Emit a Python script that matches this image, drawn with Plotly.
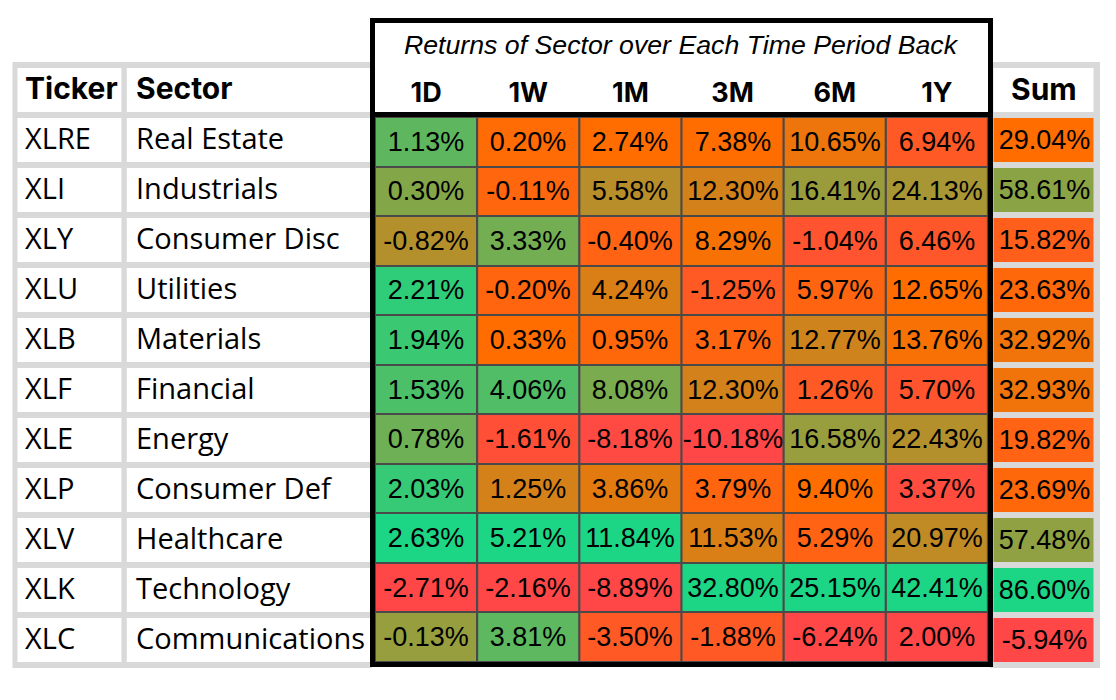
import plotly.graph_objects as go

# ---- data ----
tickers = ["XLRE", "XLI", "XLY", "XLU", "XLB", "XLF", "XLE", "XLP", "XLV", "XLK", "XLC"]
sectors = ["Real Estate", "Industrials", "Consumer Disc", "Utilities", "Materials",
           "Financial", "Energy", "Consumer Def", "Healthcare", "Technology", "Communications"]
periods = ["1D", "1W", "1M", "3M", "6M", "1Y"]

ret_1d = [1.13, 0.30, -0.82, 2.21, 1.94, 1.53, 0.78, 2.03, 2.63, -2.71, -0.13]
ret_1w = [0.20, -0.11, 3.33, -0.20, 0.33, 4.06, -1.61, 1.25, 5.21, -2.16, 3.81]
ret_1m = [2.74, 5.58, -0.40, 4.24, 0.95, 8.08, -8.18, 3.86, 11.84, -8.89, -3.50]
ret_3m = [7.38, 12.30, 8.29, -1.25, 3.17, 12.30, -10.18, 3.79, 11.53, 32.80, -1.88]
ret_6m = [10.65, 16.41, -1.04, 5.97, 12.77, 1.26, 16.58, 9.40, 5.29, 25.15, -6.24]
ret_1y = [6.94, 24.13, 6.46, 12.65, 13.76, 5.70, 22.43, 3.37, 20.97, 42.41, 2.00]
sums = [29.04, 58.61, 15.82, 23.63, 32.92, 32.93, 19.82, 23.69, 57.48, 86.60, -5.94]

# value that shows up as plain orange in each column (middle of its colour scale)
mid_periods = [-2.52, 0.33, 2.74, 7.38, 9.40, 12.65]
mid_sum = 29.04

returns = [ret_1d, ret_1w, ret_1m, ret_3m, ret_6m, ret_1y]

# ---- styling ----
# page is 1116x700 but the html body adds an 8px margin, so the figure is a bit smaller
PAGE_OFF = 8
W, H = 1100, 684
RED, ORANGE, GREEN = "#FF4747", "#FF6D00", "#1CD685"
GRID_GRAY = "#D9D9D9"
CELL_LINE = "#4A4A4A"


def px_x(p):
    return (p - PAGE_OFF) / W


def px_y(p):
    return 1 - (p - PAGE_OFF) / H


def scale_for(values, mid):
    lo, hi = min(values), max(values)
    pos = (mid - lo) / (hi - lo)
    return [[0, RED], [pos, ORANGE], [1, GREEN]]


value_font = dict(family="Liberation Sans, Arial", size=27, color="black")
body_font = dict(family="Open Sans", size=29, color="black")
head_font = dict(family="Inter", size=30, color="black", weight=700)
white = [[0, "white"], [1, "white"]]
n = len(tickers)
table_rows = list(range(n + 1))      # row 0 is the header
body_rows = list(range(1, n + 1))

fig = go.Figure()

# left table (ticker / sector) - white cells, text added as annotations
for ax in ["x", "x2"]:
    fig.add_trace(go.Heatmap(z=[[0]] * (n + 1), x=[0], y=table_rows, colorscale=white,
                             showscale=False, xgap=5, ygap=6, hoverinfo="skip",
                             xaxis=ax, yaxis="y"))

# returns heatmap, one trace per column so each gets its own colour range
for j, (col, mid) in enumerate(zip(returns, mid_periods)):
    fig.add_trace(go.Heatmap(
        z=[[v] for v in col], x=[j], y=list(range(n)),
        zmin=min(col), zmax=max(col), colorscale=scale_for(col, mid),
        showscale=False, xgap=2, ygap=2,
        texttemplate="%{z:.2f}%", textfont=value_font, hoverinfo="skip",
        xaxis="x3", yaxis="y2"))

# sum column
fig.add_trace(go.Heatmap(z=[[0]], x=[0], y=[0], colorscale=white,
                         showscale=False, hoverinfo="skip", xgap=5, ygap=6,
                         xaxis="x4", yaxis="y"))
fig.add_trace(go.Heatmap(
    z=[[v] for v in sums], x=[0], y=body_rows,
    zmin=min(sums), zmax=max(sums), colorscale=scale_for(sums, mid_sum),
    showscale=False, xgap=5, ygap=6,
    texttemplate="%{z:.2f}%", textfont=value_font, hoverinfo="skip",
    xaxis="x4", yaxis="y"))

annotations = [
    dict(text="Ticker", xref="x domain", x=0, xshift=8, yref="y", y=0, yshift=2,
         xanchor="left", yanchor="middle", showarrow=False, font=head_font),
    dict(text="Sector", xref="x2 domain", x=0, xshift=9, yref="y", y=0, yshift=2,
         xanchor="left", yanchor="middle", showarrow=False, font=head_font),
    dict(text="Sum", xref="x4", x=0, yref="y", y=0, yshift=1,
         xanchor="center", yanchor="middle", showarrow=False, font=head_font),
    dict(text="Returns of Sector over Each Time Period Back", xref="x3 domain", x=0.5,
         yref="paper", y=px_y(45), xanchor="center", yanchor="middle", showarrow=False,
         font=dict(family="Liberation Sans, Arial", size=26.7, color="black", style="italic")),
]
for i, (t, s) in enumerate(zip(tickers, sectors), start=1):
    annotations.append(dict(text=t, xref="x domain", x=0, xshift=8, yref="y", y=i, yshift=3,
                            xanchor="left", yanchor="middle", showarrow=False, font=body_font))
    annotations.append(dict(text=s, xref="x2 domain", x=0, xshift=9, yref="y", y=i, yshift=3,
                            xanchor="left", yanchor="middle", showarrow=False, font=body_font))

shapes = [
    # gray frames behind the white tables
    dict(type="rect", xref="paper", yref="paper", layer="below", line_width=0,
         x0=px_x(12.5), x1=px_x(372), y0=px_y(668), y1=px_y(62), fillcolor=GRID_GRAY),
    dict(type="rect", xref="paper", yref="paper", layer="below", line_width=0,
         x0=px_x(990), x1=px_x(1100), y0=px_y(668), y1=px_y(62), fillcolor=GRID_GRAY),
    # dark cell lines behind the returns heatmap
    dict(type="rect", xref="paper", yref="paper", layer="below", line_width=0,
         x0=px_x(375), x1=px_x(988), y0=px_y(662), y1=px_y(117), fillcolor=CELL_LINE),
    # black frame and header rule
    dict(type="rect", xref="paper", yref="paper", line=dict(color="black", width=5),
         x0=px_x(372.5), x1=px_x(990.5), y0=px_y(664.5), y1=px_y(20.5)),
    dict(type="line", xref="paper", yref="paper", line=dict(color="black", width=5),
         x0=px_x(372.5), x1=px_x(990.5), y0=px_y(114.5), y1=px_y(114.5)),
]

hidden = dict(showgrid=False, zeroline=False, showticklabels=False, ticks="",
              showline=False, fixedrange=True)
one_col = dict(hidden, range=[-0.5, 0.5])

fig.update_layout(
    width=W, height=H,
    margin=dict(l=0, r=0, t=0, b=0),
    paper_bgcolor="white", plot_bgcolor="rgba(0,0,0,0)",
    showlegend=False,
    xaxis=dict(one_col, domain=[px_x(15.4), px_x(124.8)], anchor="y"),
    xaxis2=dict(one_col, domain=[px_x(124.8), px_x(377.5)], anchor="y"),
    xaxis3=dict(hidden, domain=[px_x(375), px_x(988)], anchor="y2",
                range=[-0.5, len(periods) - 0.5],
                showticklabels=True, side="top", ticklabelstandoff=9,
                tickvals=list(range(len(periods))), ticktext=periods,
                tickfont=dict(family="Inter", size=27, color="black", weight=700)),
    xaxis4=dict(one_col, domain=[px_x(991.5), px_x(1096.5)], anchor="y"),
    yaxis=dict(hidden, domain=[px_y(665), px_y(65)], anchor="x",
               range=[n + 0.5, -0.5]),
    yaxis2=dict(hidden, domain=[px_y(662), px_y(117)], anchor="x3",
                range=[n - 0.5, -0.5]),
    annotations=annotations,
    shapes=shapes,
)

fig.write_html("out.html")
